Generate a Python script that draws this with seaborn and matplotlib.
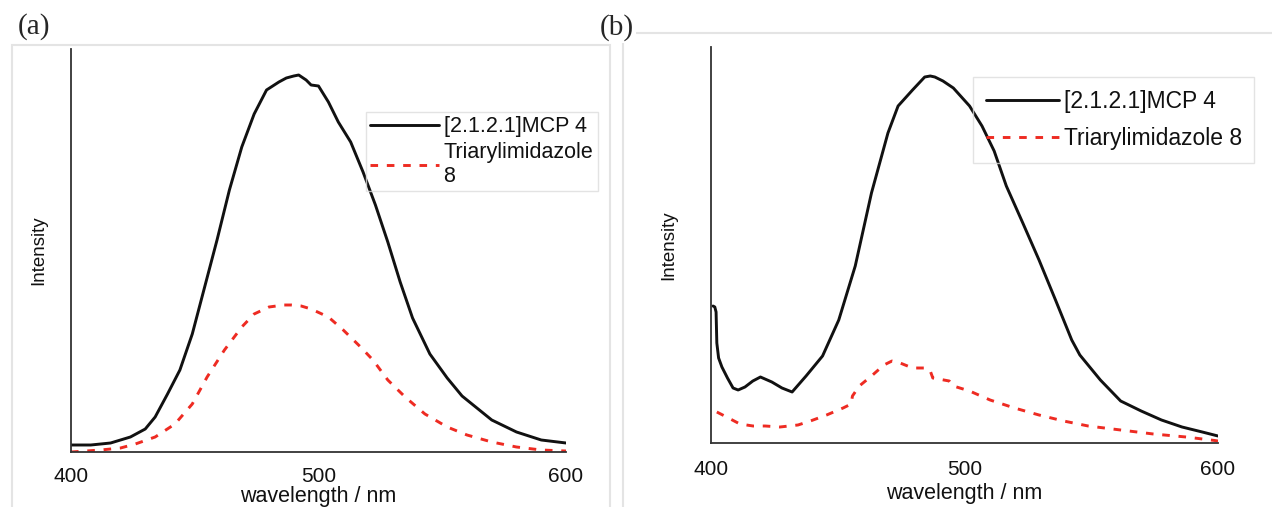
import numpy as np
import pandas as pd
import matplotlib
matplotlib.use("Agg")
import matplotlib.pyplot as plt
from matplotlib.patches import Rectangle
import seaborn as sns

# panel (a): emission spectra, intensity in arbitrary units
wl_a_mcp = [400, 408, 416, 424, 430, 434, 439, 444, 449, 454, 459, 464, 469, 474,
            479, 484, 487, 490, 492, 495, 497, 500, 504, 508, 513, 518, 523, 528,
            533, 538, 545, 552, 558, 565, 570, 580, 590, 600]
int_a_mcp = [7, 7, 9, 15, 23, 35, 58, 82, 118, 165, 212, 262, 305, 338,
             362, 370, 374, 376, 377, 372, 367, 366, 350, 330, 310, 280, 247, 210,
             170, 134, 98, 74, 56, 42, 32, 20, 12, 9]
wl_a_imid = [400, 412, 420, 426, 434, 442, 449, 455, 462, 469, 474, 480, 486, 489,
             493, 497, 504, 510, 517, 522, 528, 535, 543, 552, 560, 570, 580, 590, 600]
int_a_imid = [0, 2, 4, 8, 15, 28, 48, 75, 102, 125, 138, 145, 147, 147,
              146, 143, 135, 122, 105, 92, 72, 55, 38, 25, 17, 10, 5, 2, 1]

# panel (b)
wl_b_mcp = [400.8, 401.5, 402.0, 402.3, 403, 404.3, 406.5, 408.7, 410.7, 413.4, 416.5,
            419.5, 424, 428, 432, 437.5, 444, 450.4, 456.9, 463.3, 469.8, 473.8, 479.5,
            484.3, 486.5, 488.3, 491.5, 495.6, 502, 506.9, 511.7, 516.5, 523, 529.4,
            535.9, 542.3, 545.5, 553.6, 561.6, 569.7, 577.7, 585.8, 593.8, 600]
int_b_mcp = [137, 136, 131, 100, 85, 76, 65, 55, 53, 56, 62,
             66, 61, 55, 51, 67, 87, 123, 177, 250, 310, 337, 353,
             366, 367, 366, 362, 355, 337, 317, 292, 257, 220, 183,
             143, 103, 88, 63, 42, 32, 23, 16, 11, 7]
wl_b_imid = [402.3, 406.9, 411.4, 416.6, 421.4, 427.2, 434.3, 439.2, 445.6, 452.1, 455.3,
             455.8, 458.5, 463.3, 468.2, 471.4, 474.6, 479.5, 485.1, 486.5, 487.5, 494,
             495.6, 502, 510.1, 519.7, 529.4, 539.1, 548.8, 561.6, 574.5, 587.4, 598.7, 600]
int_b_imid = [31, 25, 19, 17, 17, 16, 18, 22, 28, 35, 39,
              47, 57, 67, 78, 82, 80, 75, 75, 72, 65, 62,
              57, 52, 43, 35, 28, 22, 17, 13, 9, 6, 2.5, 2]

labels_a = ["[2.1.2.1]MCP 4", "Triarylimidazole\n8"]
labels_b = ["[2.1.2.1]MCP 4", "Triarylimidazole 8"]
xticks = [400, 500, 600]

W, H = 1272, 507
BLACK = "#111111"
RED = "#ee2b22"
GREY = "#e4e4e4"

sns.set_style("white")
plt.rcParams["font.family"] = ["Liberation Sans", "DejaVu Sans"]


def px_axes(fig, left, top, right, bottom):
    return fig.add_axes([left / W, 1 - bottom / H, (right - left) / W, (bottom - top) / H])


def panel(ax, wl1, y1, wl2, y2, labels, ymax, tickdir, tickpad, xlabpad, ylabpad):
    sns.lineplot(x=wl1, y=y1, ax=ax, color=BLACK, lw=2.1, label=labels[0])
    sns.lineplot(x=wl2, y=y2, ax=ax, color=RED, lw=2.1, ls=(0, (2.6, 3.0)), label=labels[1])
    ax.set_xlim(400, 600)
    ax.set_ylim(0, ymax)
    ax.set_xticks(xticks)
    ax.set_yticks([])
    ax.tick_params(axis="x", direction=tickdir, length=4, width=1, color="#333333",
                   labelsize=15, labelcolor="#111111", pad=tickpad)
    for s in ["top", "right"]:
        ax.spines[s].set_visible(False)
    for s in ["left", "bottom"]:
        ax.spines[s].set_color("#333333")
        ax.spines[s].set_linewidth(1.3)
    ax.set_xlabel("wavelength / nm", fontsize=15.5, color="#111111", labelpad=xlabpad)
    ax.set_ylabel("Intensity", fontsize=13.5, color="#111111", labelpad=ylabpad)
    ax.patch.set_alpha(0)


def legend(ax, x0, y0, fs, hl, pad, spacing):
    leg = ax.legend(loc="upper left", bbox_to_anchor=(x0 / W, 1 - y0 / H),
                    bbox_transform=fig.transFigure, borderaxespad=0, fontsize=fs,
                    handlelength=hl, handletextpad=0.2, borderpad=pad,
                    labelspacing=spacing, frameon=True, fancybox=False,
                    edgecolor="#dddddd")
    leg.get_frame().set_facecolor("none")
    for t in leg.get_texts():
        t.set_color("#111111")
    return leg


fig = plt.figure(figsize=(W / 100, H / 100), dpi=100)

# light grey frames around the two panels
fig.add_artist(Rectangle((12 / W, -0.1), (610 - 12) / W, 1.1 - 45 / H,
                         transform=fig.transFigure, fill=False, ec=GREY, lw=1.5, zorder=-5))
fig.add_artist(Rectangle((623 / W, -0.1), 0.6, 1.1 - 33 / H,
                         transform=fig.transFigure, fill=False, ec=GREY, lw=1.5, zorder=-5))

ax_a = px_axes(fig, 71, 49, 566, 452)
panel(ax_a, wl_a_mcp, int_a_mcp, wl_a_imid, int_a_imid, labels_a, 403, "out", 7, 0, 17)
legend(ax_a, 366, 112, 15.5, 3.2, 0.2, 0.2)

ax_b = px_axes(fig, 711, 47, 1218, 443)
panel(ax_b, wl_b_mcp, int_b_mcp, wl_b_imid, int_b_imid, labels_b, 396, "in", 12, 3, 24)
legend(ax_b, 973, 77, 16.5, 3.2, 0.55, 0.65)

fig.text(18 / W, 1 - 27 / H, "(a)", family=["Liberation Serif", "DejaVu Serif"],
         fontsize=21, ha="left", va="center")
fig.text(600 / W, 1 - 28 / H, "(b)", family=["Liberation Serif", "DejaVu Serif"],
         fontsize=21, ha="left", va="center",
         bbox=dict(facecolor="white", edgecolor="none", pad=1))

fig.savefig("out.png", dpi=100)
